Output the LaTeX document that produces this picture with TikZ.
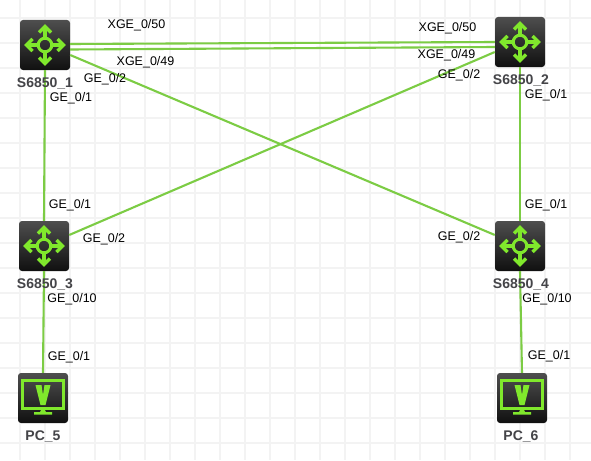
\documentclass[tikz,border=0pt]{standalone}
\usepackage{fontspec}
\setmainfont{Liberation Sans}
\usepackage{xcolor}
\definecolor{gridgrey}{RGB}{243,243,243}
\definecolor{linkgreen}{RGB}{124,204,68}
\definecolor{icongreen}{RGB}{128,232,44}
\definecolor{devtop}{RGB}{78,78,78}
\definecolor{devbot}{RGB}{16,16,16}
\definecolor{namegrey}{RGB}{68,68,72}

\begin{document}
\begin{tikzpicture}[
    x=1pt, y=-1pt,
    device/.style={rounded corners=3pt, minimum width=50pt, minimum height=50pt, inner sep=0pt,
                   top color=devtop, bottom color=devbot},
    link/.style={linkgreen, line width=2.1pt},
    port/.style={font=\fontsize{12.5}{14}\selectfont, text=black, inner sep=0pt},
    devname/.style={font=\fontsize{14}{16}\selectfont\bfseries, text=namegrey, inner sep=0pt},
    routericon/.pic={
        \draw[icongreen, line width=3pt] (0,0) circle (6.8);
        \foreach \ang in {0,90,180,270} {
            \draw[icongreen, line width=3.2pt, rotate=\ang] (7,0) -- (18,0);
            \draw[icongreen, line width=3.2pt, rotate=\ang, line join=miter] (12.5,-6) -- (18.5,0) -- (12.5,6);
        }
    },
    pcicon/.pic={
        \draw[icongreen, line width=2.4pt] (-20.5,-17.5) rectangle (20.5,10.5);
        \fill[icongreen] (-7.5,-13) -- (-1.5,-13) -- (0,-3) -- (1.5,-13) -- (7.5,-13) -- (2.5,7) -- (-2.5,7) -- cycle;
        \fill[icongreen] (-1.5,11) -- (1.5,11) -- (3,14) -- (9,14) -- (9,16.5) -- (-9,16.5) -- (-9,14) -- (-3,14) -- cycle;
    }
]
    \useasboundingbox (0,0) rectangle (591,460);
    \fill[white] (0,0) rectangle (591,460);

    \foreach \gx in {20,45,...,570}
        \draw[gridgrey, line width=2.6pt] (\gx,0) -- (\gx,460);
    \foreach \gy in {18,43,...,443}
        \draw[gridgrey, line width=2.6pt] (0,\gy) -- (591,\gy);

    \node[device] (sw1) at (45,45) {};
    \node[device] (sw2) at (520,42) {};
    \node[device] (sw3) at (44,246) {};
    \node[device] (sw4) at (520,246) {};
    \node[device] (pc5) at (43,398) {};
    \node[device] (pc6) at (522,398) {};

    \pic at (sw1) {routericon};
    \pic at (sw2) {routericon};
    \pic at (sw3) {routericon};
    \pic at (sw4) {routericon};
    \pic at (pc5) {pcicon};
    \pic at (pc6) {pcicon};

    \draw[link] ([yshift=1pt]sw1.east) -- (sw2.west);
    \draw[link] ([yshift=-4.5pt]sw1.east) -- ([yshift=-5pt]sw2.west);
    \draw[link] ([yshift=-10pt]sw1.east) -- ([yshift=11pt]sw4.west);
    \draw[link] ([yshift=11pt]sw3.east) -- ([yshift=-10pt]sw2.west);
    \draw[link] (sw1.south) -- (sw3.north);
    \draw[link] (sw2.south) -- (sw4.north);
    \draw[link] (sw3.south) -- (pc5.north);
    \draw[link] (sw4.south) -- (pc6.north);

    \node[devname] (name1) at (45,83) {S6850\_1};
    \node[devname] (name2) at (521,80) {S6850\_2};
    \node[devname] (name3) at (45,284) {S6850\_3};
    \node[devname] (name4) at (521,284) {S6850\_4};
    \node[devname] (name5) at (43,436) {PC\_5};
    \node[devname] (name6) at (521,436) {PC\_6};

    \node[port] (p1a) at (136.5,25) {XGE\_0/50};
    \node[port] (p1b) at (145.5,62) {XGE\_0/49};
    \node[port] (p1c) at (105,79) {GE\_0/2};
    \node[port] (p1d) at (71,98) {GE\_0/1};
    \node[port] (p2a) at (447.5,28) {XGE\_0/50};
    \node[port] (p2b) at (446.5,55) {XGE\_0/49};
    \node[port] (p2c) at (459,75) {GE\_0/2};
    \node[port] (p2d) at (546,95) {GE\_0/1};
    \node[port] (p3a) at (70,205) {GE\_0/1};
    \node[port] (p3b) at (104,239) {GE\_0/2};
    \node[port] (p3c) at (72,299) {GE\_0/10};
    \node[port] (p4a) at (546,205) {GE\_0/1};
    \node[port] (p4b) at (459,237) {GE\_0/2};
    \node[port] (p4c) at (547,299) {GE\_0/10};
    \node[port] (p5a) at (69,357) {GE\_0/1};
    \node[port] (p6a) at (549,356) {GE\_0/1};
\end{tikzpicture}
\end{document}
